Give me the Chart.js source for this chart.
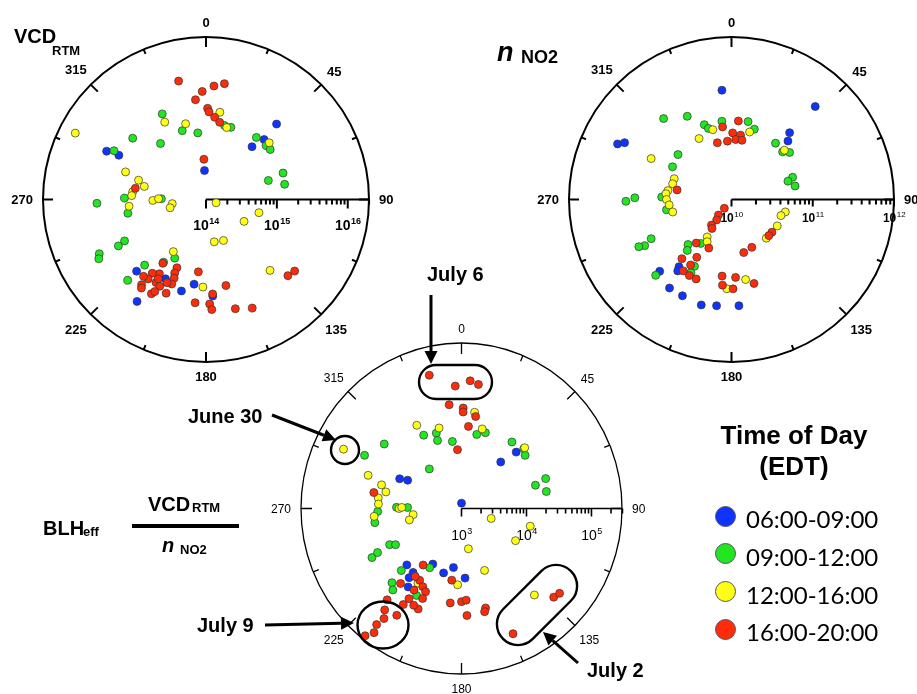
<!DOCTYPE html>
<html>
<head>
<meta charset="utf-8">
<script src="https://cdn.jsdelivr.net/npm/chart.js@4.4.0/dist/chart.umd.min.js"></script>
<style>
body { margin: 0; background: #fff; }
#wrap { position: relative; width: 917px; height: 694px; overflow: hidden; background: #fff;
        font-family: "Liberation Sans", Arial, sans-serif; font-weight: bold; color: #000; }
#wrap canvas { position: absolute; left: 0; top: 0; }
.t { position: absolute; line-height: 1; white-space: nowrap; }
.c { transform: translateX(-50%); }
.key { position: absolute; width: 21px; height: 21px; border-radius: 50%; border: 1px solid #555; box-sizing: border-box; }
.lg { position: absolute; line-height: 1; white-space: nowrap; font-family: Lato, "Open Sans", sans-serif; font-weight: normal; font-size: 24px; }
</style>
</head>
<body>
<div id="wrap">
  <canvas id="vcd" width="917" height="694"></canvas>
  <canvas id="no2" width="917" height="694"></canvas>
  <canvas id="blh" width="917" height="694"></canvas>

  <span class="t" style="left:14px;top:26px;font-size:20px">VCD</span>
  <span class="t" style="left:52px;top:44px;font-size:13px">RTM</span>

  <span class="t" style="left:497px;top:39px;font-size:27px;font-style:italic">n</span>
  <span class="t" style="left:521px;top:48px;font-size:18px">NO2</span>

  <span class="t" style="left:43px;top:518px;font-size:20px">BLH</span>
  <span class="t" style="left:83px;top:525px;font-size:13px">eff</span>
  <span class="t" style="left:148px;top:494px;font-size:20px">VCD</span>
  <span class="t" style="left:192px;top:501px;font-size:13px">RTM</span>
  <div style="position:absolute;left:132px;top:524px;width:107px;height:4px;background:#000"></div>
  <span class="t" style="left:162px;top:535px;font-size:20px;font-style:italic">n</span>
  <span class="t" style="left:180px;top:543px;font-size:13px">NO2</span>

  <span class="t" style="left:427px;top:264px;font-size:20px">July 6</span>
  <span class="t" style="left:188px;top:406px;font-size:20px">June 30</span>
  <span class="t" style="left:197px;top:615px;font-size:20px">July 9</span>
  <span class="t" style="left:587px;top:660px;font-size:20px">July 2</span>

  <span class="t c" style="left:794px;top:422px;font-size:26px">Time of Day</span>
  <span class="t c" style="left:794px;top:453px;font-size:26px">(EDT)</span>
  <div id="legend"></div>
</div>
<script>
// wind direction (deg) and log10 of the plotted quantity, one list per time of day
const timeLabels = ['06:00-09:00', '09:00-12:00', '12:00-16:00', '16:00-20:00'];
const dotColors = ['#1034ff', '#22e622', '#ffff14', '#ff2c0a'];

// VCD_RTM, log10 molecules/cm2
const vcdBlue = [[43,15.46],[44,15.18],[41,14.99],[296,15.56],[297,15.38],[357,14.41],[224,15.41],[214,15.74],[195,15.34],[188,15.21],[176,15.37],[207,15.26]];
const vcdGreen = [[333,15.36],[341,15.03],[353,14.95],[310,15.35],[321,15.02],[298,15.47],[14,15.08],[19,15.08],[39,15.13],[48,15.14],[52,15.15],[71,15.15],[79,15.13],[73,14.92],[268,15.54],[271,15.15],[260,15.12],[271,14.63],[243,15.29],[242,15.40],[243,15.69],[241,15.73],[208,14.94],[214,15.07],[223,15.27],[224,15.59]];
const vcdYellow = [[297,16.07],[332,15.24],[345,15.11],[9,15.25],[16,15.06],[48,15.20],[289,15.20],[286,14.99],[282,14.89],[276,15.04],[273,15.05],[265,15.09],[269,14.75],[271,14.67],[263,14.48],[257,14.52],[108,14.15],[120,14.62],[104,14.77],[169,14.61],[157,14.63],[212,14.87],[182,15.24],[138,15.35]];
const vcdRed = [[347,15.72],[358,15.53],[4,15.61],[9,15.66],[354,15.42],[1,15.29],[2,15.24],[6,15.17],[10,15.11],[357,14.57],[279,15.01],[214,15.09],[203,15.05],[203,15.13],[202,15.20],[202,15.29],[205,15.30],[212,15.24],[216,15.29],[216,15.39],[219,15.40],[217,15.51],[216,15.55],[210,15.54],[211,15.37],[208,15.39],[203,15.44],[209,15.49],[211,15.31],[186,15.03],[167,15.25],[176,15.34],[186,15.47],[178,15.48],[177,15.56],[165,15.60],[157,15.67],[133,15.58],[129,15.61]];

// n NO2, log10 molecules/cm3
const no2Blue = [[355,11.35],[42,11.54],[41,11.09],[44,11.00],[296,11.56],[298,11.49],[225,11.25],[218,11.05],[217,11.10],[215,11.33],[207,11.33],[196,11.35],[188,11.32],[176,11.31]];
const no2Green = [[320,11.30],[332,11.16],[340,10.98],[342,10.92],[353,10.97],[12,10.98],[18,10.91],[38,10.88],[47,10.86],[51,10.92],[70,10.80],[72,10.73],[78,10.80],[310,10.86],[299,10.83],[269,11.30],[271,11.19],[272,10.86],[261,10.81],[244,11.10],[242,11.21],[243,11.28],[224,10.77],[221,10.83],[215,10.66],[209,10.94],[209,11.03],[225,11.32]];
const no2Yellow = [[332,10.85],[345,10.89],[15,10.86],[47,10.89],[297,11.11],[290,10.75],[285,10.75],[278,10.79],[275,10.81],[270,10.80],[265,10.77],[258,10.74],[213,10.55],[210,10.60],[103,10.68],[108,10.64],[120,10.65],[138,10.64],[170,11.00],[183,11.10]];
const no2Red = [[5,10.97],[353,10.90],[1,10.82],[8,10.80],[4,10.74],[356,10.72],[346,10.72],[10,10.74],[280,10.68],[219,10.14],[220,10.25],[216,10.31],[218,10.40],[214,10.43],[205,10.66],[219,10.69],[211,10.83],[220,10.95],[212,10.95],[214,11.06],[209,11.07],[204,11.07],[129,10.64],[134,10.64],[157,10.64],[167,10.67],[187,10.95],[186,11.06],[177,10.96],[179,11.10],[165,11.07]];

// BLH_eff = VCD_RTM / n NO2, log10 m
const blhBlue = [[295,4.05],[297,3.93],[0,3.08],[41,3.92],[45,4.19],[225,4.19],[218,4.21],[218,4.31],[215,4.43],[208,3.94],[196,4.00],[188,3.89],[177,4.04]];
const blhGreen = [[309,4.53],[298,4.69],[332,4.24],[341,4.19],[340,4.08],[352,4.01],[12,4.13],[18,4.19],[320,3.77],[38,4.26],[47,4.31],[51,4.26],[73,4.19],[71,4.37],[79,4.33],[268,4.29],[261,4.35],[271,4.00],[271,3.83],[244,4.23],[242,4.15],[242,4.56],[243,4.45],[225,4.31],[224,4.54],[221,4.61],[209,4.01],[208,4.47]];
const blhYellow = [[296,5.02],[331,4.42],[344,4.25],[8,4.45],[15,4.23],[47,4.33],[289,4.52],[286,4.28],[282,4.19],[277,4.29],[273,4.28],[265,4.35],[270,3.96],[271,3.92],[263,3.75],[258,3.82],[108,3.48],[120,3.96],[104,4.09],[170,3.61],[159,3.99],[211,4.30],[183,4.14],[139,4.71]];
const blhRed = [[346,5.05],[357,4.83],[4,4.91],[8,4.87],[353,4.56],[1,4.50],[1,4.44],[9,4.39],[5,4.23],[356,3.88],[280,4.37],[215,4.03],[220,4.46],[211,4.25],[207,4.31],[204,4.36],[204,4.47],[204,4.64],[207,4.62],[211,4.57],[212,4.69],[220,4.78],[188,4.08],[187,4.42],[180,4.39],[177,4.37],[177,4.60],[166,4.53],[167,4.58],[218,4.92],[212,4.88],[216,5.03],[217,5.17],[216,5.29],[218,5.41],[157,5.03],[133,4.94],[130,4.97],[215,4.24],[211,4.42]];

const compassLabels = [0, 45, 90, 135, 180, 225, 270, 315];
const DEG = Math.PI / 180;

// legend
const legend = document.getElementById('legend');
timeLabels.forEach((lab, i) => {
    const cy = 516 + 37.7 * i;
    legend.insertAdjacentHTML('beforeend',
        `<div class="key" style="left:${725 - 10.5}px;top:${cy - 10.5}px;background:${dotColors[i]}"></div>` +
        `<span class="lg" style="left:746px;top:${cy + 12.5 - 21.3}px">${lab}</span>`);
});

// (dir, log value) -> cartesian offsets in decades above the axis origin
function polarPoints(pairs, base) {
    return pairs.map(([dir, lg]) => {
        const r = lg - base;
        return { x: r * Math.sin(dir * DEG), y: r * Math.cos(dir * DEG) };
    });
}

function polarFrame(o) {
    return {
        id: 'polarFrame',
        beforeDatasetsDraw(chart) {
            const ctx = chart.ctx, x = chart.scales.x, y = chart.scales.y;
            const cx = x.getPixelForValue(0), cy = y.getPixelForValue(0);
            const rx = x.getPixelForValue(o.rmax) - cx, ry = cy - y.getPixelForValue(o.rmax);
            ctx.save();
            ctx.strokeStyle = '#000';
            ctx.fillStyle = '#000';
            ctx.lineWidth = o.lw;
            ctx.beginPath();
            ctx.ellipse(cx, cy, rx, ry, 0, 0, 2 * Math.PI);
            ctx.stroke();
            ctx.beginPath();
            for (let d = 0; d < 360; d += 22.5) {
                const len = d % 45 ? o.minor : o.major;
                const s = Math.sin(d * DEG), c = Math.cos(d * DEG);
                ctx.moveTo(cx + s * rx, cy - c * ry);
                ctx.lineTo(cx + s * (rx - len), cy - c * (ry - len));
            }
            ctx.stroke();

            // log radial axis drawn along 90 deg
            ctx.lineWidth = o.axisLw;
            ctx.beginPath();
            ctx.moveTo(cx, cy);
            ctx.lineTo(cx + rx, cy);
            for (let e = 0; e <= Math.floor(o.rmax); e++) {
                for (let m = 1; m < 10; m++) {
                    const v = e + Math.log10(m);
                    if (v > o.rmax + 0.01) break;
                    const px = x.getPixelForValue(v);
                    ctx.moveTo(px, cy);
                    ctx.lineTo(px, cy + (m === 1 ? o.tickMajor : o.tickMinor));
                }
            }
            ctx.stroke();

            ctx.textAlign = 'left';
            ctx.textBaseline = 'alphabetic';
            for (let e = 0; e <= Math.floor(o.rmax + 0.01); e++) {
                const px = x.getPixelForValue(e);
                const sup = String(o.base + e);
                ctx.font = o.labFont;
                const w1 = ctx.measureText('10').width;
                ctx.font = o.supFont;
                const w2 = ctx.measureText(sup).width;
                const x0 = px - (w1 + w2) / 2;
                ctx.font = o.labFont;
                ctx.fillText('10', x0, cy + o.labDy);
                ctx.font = o.supFont;
                ctx.fillText(sup, x0 + w1 + 0.5, cy + o.labDy - o.supDy);
            }

            ctx.font = o.angFont;
            ctx.textAlign = 'center';
            compassLabels.forEach(d => {
                const s = Math.sin(d * DEG), c = Math.cos(d * DEG);
                const t = String(d), w = ctx.measureText(t).width;
                const off = o.gap + Math.abs(s) * w / 2 + Math.abs(c) * o.capH / 2;
                ctx.fillText(t, cx + s * (rx + off), cy - c * (ry + off) + o.capH / 2);
            });
            ctx.restore();
        }
    };
}

function arrow(ctx, x1, y1, x2, y2) {
    const a = Math.atan2(y2 - y1, x2 - x1), hl = 13, hw = 6.5;
    const bx = x2 - hl * Math.cos(a), by = y2 - hl * Math.sin(a);
    ctx.lineWidth = 3;
    ctx.beginPath();
    ctx.moveTo(x1, y1);
    ctx.lineTo(bx, by);
    ctx.stroke();
    ctx.beginPath();
    ctx.moveTo(x2, y2);
    ctx.lineTo(bx - hw * Math.sin(a), by + hw * Math.cos(a));
    ctx.lineTo(bx + hw * Math.sin(a), by - hw * Math.cos(a));
    ctx.closePath();
    ctx.fill();
}

// circled days with arrows on the BLH plot
const callouts = {
    id: 'callouts',
    afterDatasetsDraw(chart) {
        const ctx = chart.ctx;
        ctx.save();
        ctx.strokeStyle = '#000';
        ctx.fillStyle = '#000';
        ctx.lineWidth = 2.4;
        ctx.beginPath();
        ctx.roundRect(419, 365, 73, 34, 17);
        ctx.stroke();
        ctx.beginPath();
        ctx.arc(345, 450, 14, 0, 2 * Math.PI);
        ctx.stroke();
        ctx.beginPath();
        ctx.ellipse(383, 625, 25.5, 23.5, 0, 0, 2 * Math.PI);
        ctx.stroke();
        ctx.save();
        ctx.translate(537, 605);
        ctx.rotate(-45 * DEG);
        ctx.beginPath();
        ctx.roundRect(-48, -21, 96, 42, 21);
        ctx.stroke();
        ctx.restore();
        arrow(ctx, 431, 295, 431, 364);
        arrow(ctx, 272, 415, 336, 440);
        arrow(ctx, 265, 625, 354, 623);
        arrow(ctx, 578, 663, 543, 632);
        ctx.restore();
    }
};

function makePolar(id, sets, base, rmax, area, frame, extra) {
    const o = Object.assign({ base: base, rmax: rmax }, frame);
    return new Chart(document.getElementById(id), {
        type: 'scatter',
        data: {
            datasets: sets.map((s, i) => ({
                label: timeLabels[i],
                data: polarPoints(s, base),
                backgroundColor: dotColors[i],
                borderColor: '#333',
                borderWidth: 0.7,
                pointRadius: 4,
                order: 3 - i,
                clip: false
            }))
        },
        options: {
            responsive: false,
            animation: false,
            events: [],
            layout: { padding: { left: area[0], top: area[1], right: 917 - area[2], bottom: 694 - area[3] } },
            scales: {
                x: { type: 'linear', display: false, min: -rmax, max: rmax },
                y: { type: 'linear', display: false, min: -rmax, max: rmax }
            },
            plugins: { legend: { display: false }, tooltip: { enabled: false } }
        },
        plugins: [polarFrame(o)].concat(extra || [])
    });
}

const topFrame = { lw: 2, axisLw: 2, major: 10, minor: 5, tickMajor: 9, tickMinor: 5,
    angFont: 'bold 13px "Liberation Sans", Arial', capH: 9.3, gap: 10 };

makePolar('vcd', [vcdBlue, vcdGreen, vcdYellow, vcdRed], 14, 2.30, [43, 37, 369, 362],
    Object.assign({}, topFrame, { labFont: 'bold 14px "Liberation Sans", Arial', supFont: 'bold 9px "Liberation Sans", Arial', labDy: 30.5, supDy: 6 }));

makePolar('no2', [no2Blue, no2Green, no2Yellow, no2Red], 10, 2, [569, 37, 894, 362],
    Object.assign({}, topFrame, { tickMajor: 7, labFont: 'bold 12px "Liberation Sans", Arial', supFont: '8px "Liberation Sans", Arial', labDy: 22.5, supDy: 5 }));

makePolar('blh', [blhBlue, blhGreen, blhYellow, blhRed], 3, 2.47, [301, 343, 622, 674],
    { lw: 1.3, axisLw: 1.6, major: 11, minor: 6, tickMajor: 8, tickMinor: 5,
      angFont: '12px "Liberation Sans", Arial', capH: 8.6, gap: 10,
      labFont: '14px "Liberation Sans", Arial', supFont: '9px "Liberation Sans", Arial', labDy: 31.5, supDy: 6 },
    [callouts]);
</script>
</body>
</html>
